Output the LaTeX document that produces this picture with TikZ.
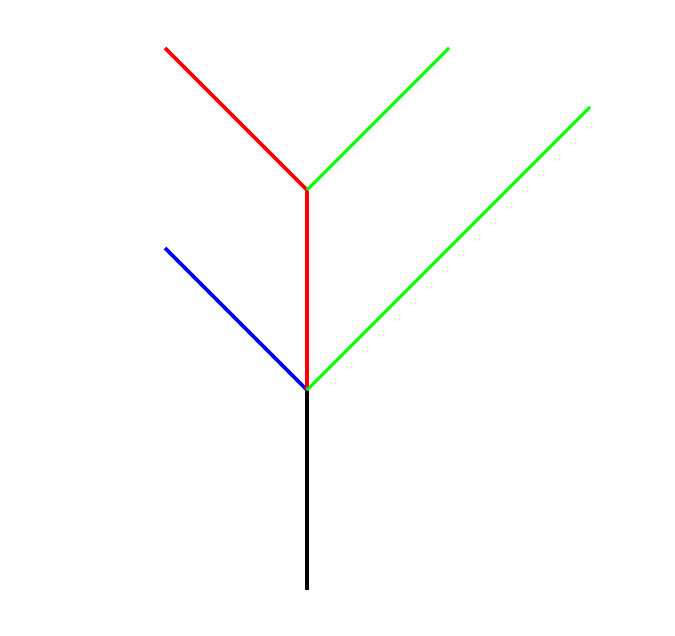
\documentclass[tikz,border=0pt]{standalone}
\begin{document}
\begin{tikzpicture}[x=1pt,y=-1pt,
  branch/.style={line width=3.6pt},
  thin branch/.style={line width=3pt}]
\definecolor{gr}{RGB}{0,255,0}
\useasboundingbox (0,0) rectangle (675,635);
\coordinate (base) at (307,590);
\coordinate (j1) at (307,390);
\coordinate (j2) at (307,190);
\coordinate (blueend) at (165,248);
\coordinate (redend) at (165,48);
\coordinate (greentop) at (449,48);
\coordinate (greenright) at (590,107);
\draw[branch,black] (base) -- (j1);
\draw[branch,blue] (j1) -- (blueend);
\draw[branch,red] (j1) -- (j2) -- (redend);
\draw[thin branch,gr] (j1) -- (greenright);
\draw[thin branch,gr] (j2) -- (greentop);
\end{tikzpicture}
\end{document}
